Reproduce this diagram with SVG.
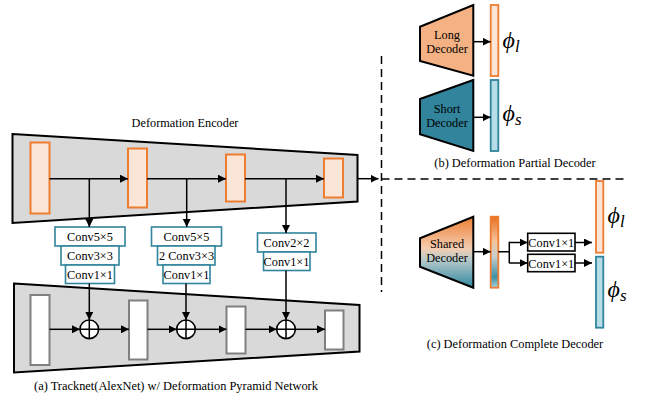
<svg xmlns="http://www.w3.org/2000/svg" width="646" height="401" viewBox="0 0 646 401" font-family="'Liberation Serif', Tinos, 'DejaVu Serif', serif">
  <defs>
    <marker id="arrow" viewBox="0 0 10 10" refX="10" refY="5" markerWidth="8" markerHeight="8" markerUnits="userSpaceOnUse" orient="auto">
      <path d="M0,0 L10,5 L0,10 z" fill="#000"/>
    </marker>
    <linearGradient id="sharedGrad" x1="0" y1="0" x2="0" y2="1">
      <stop offset="0" stop-color="#EE7F34"/>
      <stop offset="0.45" stop-color="#F4CDB0"/>
      <stop offset="0.6" stop-color="#B9CACB"/>
      <stop offset="1" stop-color="#2F88A0"/>
    </linearGradient>
    <linearGradient id="barGrad" x1="0" y1="0" x2="0" y2="1">
      <stop offset="0" stop-color="#E8701E"/>
      <stop offset="0.35" stop-color="#F5C4A0"/>
      <stop offset="0.55" stop-color="#C9CFCF"/>
      <stop offset="0.85" stop-color="#3C91A7"/>
      <stop offset="1" stop-color="#A8D2DD"/>
    </linearGradient>
  </defs>
  <style>
    text { font-family: "Liberation Serif", Tinos, "DejaVu Serif", serif; fill: #000; }
    .lbl { font-size: 12.3px; text-anchor: middle; }
    .cap { font-size: 12.4px; text-anchor: middle; }
    .math { font-style: italic; font-size: 24px; }
    .sub { font-size: 17px; }
    .trap { fill: #D9D9D9; stroke: #000; stroke-width: 2; }
    .feat { fill: #FBE5D6; stroke: #ED7D31; stroke-width: 2; }
    .pyr { fill: #FFFFFF; stroke: #808080; stroke-width: 2; }
    .conv { fill: #FFFFFF; stroke: #31849B; stroke-width: 1.6; }
    .convk { fill: #FFFFFF; stroke: #000; stroke-width: 1.6; }
    .dec { stroke: #000; stroke-width: 2; }
    .edge { fill: none; stroke: #000; stroke-width: 1.5; }
    .arr { fill: none; stroke: #000; stroke-width: 1.5; marker-end: url(#arrow); }
    .dash { fill: none; stroke: #000; stroke-width: 1.5; stroke-dasharray: 8 5; }
    .sum { fill: #FFFFFF; stroke: #000; stroke-width: 1.6; }
  </style>

  <!-- Encoder -->
  <g id="encoder">
    <text class="lbl" x="185" y="127">Deformation Encoder</text>
    <polygon class="trap" points="12.5,134 357.5,155 357.5,201.5 12.5,223"/>
    <rect class="feat" x="30.5" y="142.5" width="19" height="71"/>
    <rect class="feat" x="128" y="148.5" width="19" height="59"/>
    <rect class="feat" x="226" y="154.5" width="19" height="47"/>
    <rect class="feat" x="324" y="158.5" width="19" height="39"/>
  </g>

  <!-- Pyramid conv stacks -->
  <g id="conv-stack-1">
    <rect class="conv" x="55" y="227" width="70" height="19"/>
    <text class="lbl" x="90" y="241">Conv5×5</text>
    <rect class="conv" x="61" y="246" width="58" height="19"/>
    <text class="lbl" x="90" y="260">Conv3×3</text>
    <rect class="conv" x="65.5" y="265" width="49" height="18.5"/>
    <text class="lbl" x="90" y="279">Conv1×1</text>
  </g>
  <g id="conv-stack-2">
    <rect class="conv" x="151.5" y="227" width="70" height="19"/>
    <text class="lbl" x="186.5" y="241">Conv5×5</text>
    <rect class="conv" x="157.5" y="246" width="57.5" height="19"/>
    <text class="lbl" x="186.5" y="260">2 Conv3×3</text>
    <rect class="conv" x="163" y="265" width="47" height="18.5"/>
    <text class="lbl" x="186.5" y="279">Conv1×1</text>
  </g>
  <g id="conv-stack-3">
    <rect class="conv" x="257.5" y="233" width="58.5" height="19"/>
    <text class="lbl" x="286.5" y="247">Conv2×2</text>
    <rect class="conv" x="263.5" y="252" width="46.5" height="18.5"/>
    <text class="lbl" x="286.5" y="266">Conv1×1</text>
  </g>

  <!-- Tracknet backbone -->
  <g id="tracknet">
    <polygon class="trap" points="14,283.5 359.5,305 359.5,351.5 14,372.5"/>
    <rect class="pyr" x="30.5" y="295" width="19" height="70"/>
    <rect class="pyr" x="129" y="300.5" width="18.5" height="59"/>
    <rect class="pyr" x="226.5" y="306.5" width="19" height="47"/>
    <rect class="pyr" x="325" y="310.5" width="18.5" height="39"/>
    <text class="cap" x="176" y="390">(a) Tracknet(AlexNet) w/ Deformation Pyramid Network</text>
  </g>

  <g id="sum-1">
    <circle class="sum" cx="89.3" cy="329.3" r="9.3"/>
    <path class="edge" d="M80,329.3 H98.6 M89.3,320 V338.6"/>
  </g>
  <g id="sum-2">
    <circle class="sum" cx="186" cy="329.3" r="9.3"/>
    <path class="edge" d="M176.7,329.3 H195.3 M186,320 V338.6"/>
  </g>
  <g id="sum-3">
    <circle class="sum" cx="286" cy="329.3" r="9.3"/>
    <path class="edge" d="M276.7,329.3 H295.3 M286,320 V338.6"/>
  </g>

  <!-- Partial decoder -->
  <g id="long-decoder">
    <polygon class="dec" fill="#F4B183" points="420,26.7 473.3,5 473.3,75.7 420,61"/>
    <text class="lbl" x="447" y="38.5">Long</text>
    <text class="lbl" x="447" y="52.5">Decoder</text>
  </g>
  <g id="phi-l-partial">
    <rect x="490.7" y="5" width="7.6" height="71" fill="#FBE5D6" stroke="#ED7D31" stroke-width="1.8"/>
    <text x="502.5" y="48" class="math">ϕ<tspan class="sub" dy="4">l</tspan></text>
  </g>
  <g id="short-decoder">
    <polygon class="dec" fill="#31849B" points="420,99 473.3,80 473.3,151 420,134.3"/>
    <text class="lbl" x="447" y="113">Short</text>
    <text class="lbl" x="447" y="127">Decoder</text>
  </g>
  <g id="phi-s-partial">
    <rect x="490.7" y="80" width="7.6" height="71" fill="#B7DEE8" stroke="#31849B" stroke-width="1.8"/>
    <text x="502.5" y="121" class="math">ϕ<tspan class="sub" dy="4">s</tspan></text>
  </g>
  <text class="cap" x="515" y="167">(b) Deformation Partial Decoder</text>

  <!-- Complete decoder -->
  <g id="shared-decoder">
    <polygon class="dec" fill="url(#sharedGrad)" points="420,238.3 473.3,216.7 473.3,287.7 420,266.7"/>
    <text class="lbl" x="447" y="248">Shared</text>
    <text class="lbl" x="447" y="262">Decoder</text>
  </g>
  <g id="shared-feature">
    <rect x="490.7" y="216.7" width="7.6" height="71" fill="url(#barGrad)" stroke="#ED7D31" stroke-width="1.8"/>
  </g>
  <g id="head-l">
    <rect class="convk" x="527.7" y="233.3" width="47.3" height="17.7"/>
    <text class="lbl" x="551.3" y="246.5">Conv1×1</text>
  </g>
  <g id="head-s">
    <rect class="convk" x="527.7" y="254.3" width="47.3" height="17.4"/>
    <text class="lbl" x="551.3" y="267.5">Conv1×1</text>
  </g>
  <g id="phi-l-complete">
    <rect x="596" y="181" width="7.3" height="71.7" fill="#FBE5D6" stroke="#ED7D31" stroke-width="1.8"/>
    <text x="607.5" y="223" class="math">ϕ<tspan class="sub" dy="4">l</tspan></text>
  </g>
  <g id="phi-s-complete">
    <rect x="596" y="256.7" width="7.3" height="71" fill="#B7DEE8" stroke="#31849B" stroke-width="1.8"/>
    <text x="607.5" y="297" class="math">ϕ<tspan class="sub" dy="4">s</tspan></text>
  </g>
  <text class="cap" x="515" y="348">(c) Deformation Complete Decoder</text>

  <!-- Connectors -->
  <g id="connectors">
    <!-- encoder flow -->
    <path class="arr" d="M49.5,178.7 H128"/>
    <path class="arr" d="M147,178.7 H226"/>
    <path class="arr" d="M245,178.7 H324"/>
    <path class="arr" d="M357.5,178.7 H378.5"/>
    <!-- encoder to pyramid stacks -->
    <path class="arr" d="M89.3,178.7 V227"/>
    <path class="arr" d="M186.7,178.7 V227"/>
    <path class="arr" d="M286,178.7 V233"/>
    <!-- stacks to sums -->
    <path class="arr" d="M89.3,283.5 V320"/>
    <path class="arr" d="M186,283.5 V320"/>
    <path class="arr" d="M286,270.5 V320"/>
    <!-- backbone flow -->
    <path class="arr" d="M49.5,329.3 H80"/>
    <path class="arr" d="M98.6,329.3 H129"/>
    <path class="arr" d="M147.5,329.3 H176.7"/>
    <path class="arr" d="M195.3,329.3 H226.5"/>
    <path class="arr" d="M245.5,329.3 H276.7"/>
    <path class="arr" d="M295.3,329.3 H325"/>
    <!-- partial decoders -->
    <path class="arr" d="M473.3,41.7 H490.7"/>
    <path class="arr" d="M473.3,117.3 H490.7"/>
    <!-- complete decoder -->
    <path class="arr" d="M473.3,251.7 H490.7"/>
    <path class="edge" d="M498.3,251.7 H509.3 M509.3,241.7 V263.3"/>
    <path class="arr" d="M509.3,242.5 H527.7"/>
    <path class="arr" d="M509.3,263 H527.7"/>
    <path class="arr" d="M575,242.5 H592"/>
    <path class="arr" d="M575,263 H592"/>
    <!-- section dividers -->
    <path class="dash" d="M381.5,56 V292"/>
    <path class="dash" d="M381.5,179 H628"/>
  </g>
</svg>
